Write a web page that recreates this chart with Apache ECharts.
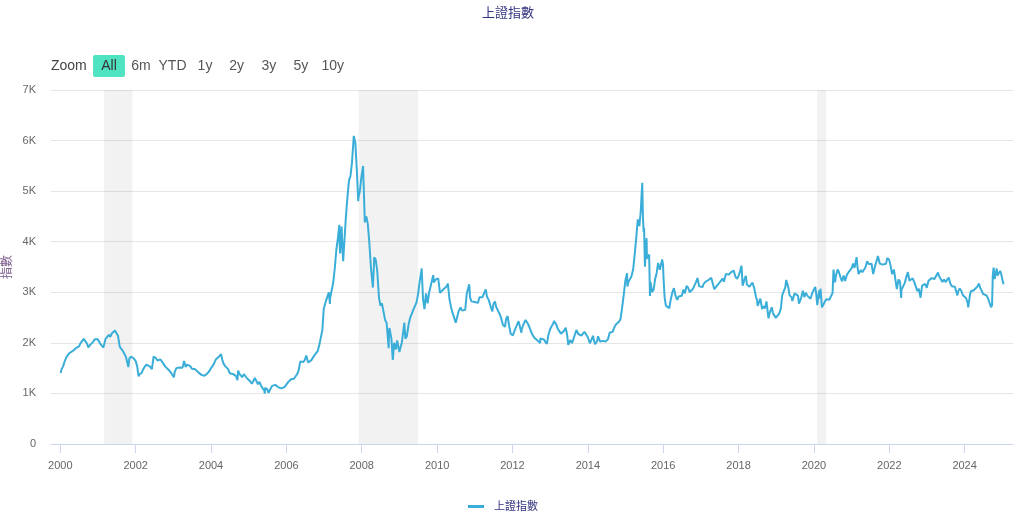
<!DOCTYPE html>
<html>
<head>
<meta charset="utf-8">
<title>上證指數</title>
<script src="https://cdn.jsdelivr.net/npm/echarts@6.0.0/dist/echarts.min.js"></script>
<style>
  html, body { margin: 0; padding: 0; background: #fff; }
  #chart { width: 1016px; height: 514px; }
</style>
</head>
<body>
<div id="chart"></div>
<script>
// 上證指數 收盤點位
var dates = [
  '2000-01-04','2000-01-12','2000-01-28','2000-02-15','2000-02-29','2000-03-15','2000-03-31','2000-04-14','2000-04-28','2000-05-15','2000-05-31','2000-06-15','2000-06-30','2000-07-14','2000-07-31','2000-08-15','2000-08-22','2000-08-31','2000-09-15','2000-09-29','2000-10-16','2000-10-31','2000-11-15','2000-11-30','2000-12-15','2000-12-29',
  '2001-01-15','2001-01-31','2001-02-22','2001-02-28','2001-03-15','2001-03-30','2001-04-16','2001-04-30','2001-05-15','2001-05-31','2001-06-14','2001-06-29','2001-07-13','2001-07-31','2001-08-15','2001-08-31','2001-09-14','2001-09-28','2001-10-22','2001-10-31','2001-11-15','2001-11-30','2001-12-14','2001-12-31',
  '2002-01-15','2002-01-29','2002-02-08','2002-02-28','2002-03-15','2002-03-29','2002-04-15','2002-04-30','2002-05-20','2002-05-31','2002-06-07','2002-06-24','2002-06-28','2002-07-15','2002-07-31','2002-08-15','2002-08-30','2002-09-16','2002-09-30','2002-10-15','2002-10-31','2002-11-15','2002-11-29','2002-12-16','2002-12-31',
  '2003-01-06','2003-01-15','2003-01-30','2003-02-14','2003-02-28','2003-03-14','2003-03-31','2003-04-15','2003-04-30','2003-05-15','2003-05-30','2003-06-13','2003-06-30','2003-07-15','2003-07-31','2003-08-15','2003-08-29','2003-09-15','2003-09-30','2003-10-15','2003-10-31','2003-11-14','2003-11-28','2003-12-15','2003-12-31',
  '2004-01-15','2004-01-30','2004-02-16','2004-02-27','2004-03-15','2004-03-31','2004-04-07','2004-04-20','2004-04-30','2004-05-17','2004-05-31','2004-06-15','2004-06-30','2004-07-15','2004-07-30','2004-08-16','2004-08-31','2004-09-13','2004-09-20','2004-09-30','2004-10-15','2004-10-29','2004-11-15','2004-11-30','2004-12-15','2004-12-31',
  '2005-01-14','2005-01-31','2005-02-16','2005-02-28','2005-03-15','2005-03-31','2005-04-15','2005-04-29','2005-05-16','2005-05-31','2005-06-06','2005-06-09','2005-06-30','2005-07-11','2005-07-29','2005-08-15','2005-08-31','2005-09-15','2005-09-30','2005-10-14','2005-10-28','2005-11-15','2005-11-30','2005-12-15','2005-12-30',
  '2006-01-16','2006-01-25','2006-02-15','2006-02-28','2006-03-15','2006-03-31','2006-04-14','2006-04-28','2006-05-15','2006-05-31','2006-06-15','2006-06-30','2006-07-12','2006-07-31','2006-08-15','2006-08-31','2006-09-15','2006-09-29','2006-10-16','2006-10-31','2006-11-15','2006-11-30','2006-12-15','2006-12-29',
  '2007-01-15','2007-01-31','2007-02-16','2007-02-27','2007-02-28','2007-03-15','2007-03-30','2007-04-16','2007-04-30','2007-05-15','2007-05-29','2007-05-30','2007-06-05','2007-06-20','2007-06-29','2007-07-05','2007-07-31','2007-08-15','2007-08-31','2007-09-14','2007-09-28','2007-10-16','2007-10-31','2007-11-15','2007-11-28','2007-11-30','2007-12-14','2007-12-28',
  '2008-01-14','2008-01-31','2008-02-15','2008-02-29','2008-03-14','2008-03-31','2008-04-18','2008-04-29','2008-04-30','2008-05-15','2008-05-30','2008-06-16','2008-06-30','2008-07-15','2008-07-31','2008-08-15','2008-08-29','2008-09-18','2008-09-22','2008-09-26','2008-10-15','2008-10-28','2008-10-31','2008-11-10','2008-11-28','2008-12-09','2008-12-31',
  '2009-01-16','2009-01-23','2009-02-17','2009-02-27','2009-03-13','2009-03-31','2009-04-15','2009-04-30','2009-05-15','2009-05-29','2009-06-15','2009-06-30','2009-07-15','2009-07-31','2009-08-04','2009-08-17','2009-08-31','2009-09-15','2009-09-30','2009-10-15','2009-10-30','2009-11-24','2009-11-30','2009-12-15','2009-12-31',
  '2010-01-11','2010-01-29','2010-02-12','2010-02-26','2010-03-15','2010-03-31','2010-04-15','2010-04-30','2010-05-17','2010-05-31','2010-06-15','2010-06-30','2010-07-05','2010-07-30','2010-08-16','2010-08-31','2010-09-15','2010-09-30','2010-10-15','2010-10-29','2010-11-08','2010-11-16','2010-11-30','2010-12-15','2010-12-31',
  '2011-01-14','2011-01-31','2011-02-15','2011-02-28','2011-03-15','2011-03-31','2011-04-18','2011-04-29','2011-05-16','2011-05-31','2011-06-20','2011-06-30','2011-07-15','2011-07-29','2011-08-15','2011-08-31','2011-09-15','2011-09-30','2011-10-21','2011-10-31','2011-11-15','2011-11-30','2011-12-15','2011-12-30',
  '2012-01-05','2012-01-31','2012-02-15','2012-02-29','2012-03-14','2012-03-28','2012-03-30','2012-04-16','2012-04-27','2012-05-07','2012-05-31','2012-06-15','2012-06-29','2012-07-16','2012-07-31','2012-08-15','2012-08-31','2012-09-26','2012-09-28','2012-10-15','2012-10-31','2012-11-15','2012-11-30','2012-12-03','2012-12-14','2012-12-31',
  '2013-01-15','2013-01-31','2013-02-06','2013-02-28','2013-03-15','2013-03-29','2013-04-15','2013-04-26','2013-05-15','2013-05-31','2013-06-14','2013-06-25','2013-06-28','2013-07-15','2013-07-31','2013-08-15','2013-08-30','2013-09-12','2013-09-30','2013-10-15','2013-10-31','2013-11-15','2013-11-29','2013-12-16','2013-12-31',
  '2014-01-20','2014-01-30','2014-02-20','2014-02-28','2014-03-12','2014-03-31','2014-04-10','2014-04-30','2014-05-15','2014-05-30','2014-06-19','2014-06-30','2014-07-15','2014-07-31','2014-08-15','2014-08-29','2014-09-15','2014-09-30','2014-10-15','2014-10-31','2014-11-14','2014-11-28','2014-12-09','2014-12-15','2014-12-31',
  '2015-01-16','2015-01-19','2015-01-30','2015-02-16','2015-02-27','2015-03-16','2015-03-31','2015-04-15','2015-04-30','2015-05-15','2015-05-29','2015-06-12','2015-06-19','2015-06-26','2015-06-30','2015-07-08','2015-07-24','2015-07-27','2015-07-31','2015-08-18','2015-08-26','2015-08-31','2015-09-15','2015-09-30','2015-10-15','2015-10-30','2015-11-13','2015-11-30','2015-12-22','2015-12-31',
  '2016-01-04','2016-01-15','2016-01-27','2016-01-29','2016-02-15','2016-02-29','2016-03-15','2016-03-31','2016-04-14','2016-04-29','2016-05-16','2016-05-31','2016-06-15','2016-06-30','2016-07-15','2016-07-29','2016-08-15','2016-08-31','2016-09-14','2016-09-30','2016-10-14','2016-10-31','2016-11-15','2016-11-29','2016-11-30','2016-12-15','2016-12-30',
  '2017-01-16','2017-01-26','2017-02-15','2017-02-28','2017-03-15','2017-03-31','2017-04-11','2017-04-28','2017-05-11','2017-05-31','2017-06-15','2017-06-30','2017-07-17','2017-07-31','2017-08-11','2017-08-31','2017-09-12','2017-09-29','2017-10-16','2017-10-31','2017-11-14','2017-11-30','2017-12-15','2017-12-29',
  '2018-01-15','2018-01-29','2018-01-31','2018-02-09','2018-02-28','2018-03-12','2018-03-23','2018-03-30','2018-04-16','2018-04-27','2018-05-15','2018-05-31','2018-06-19','2018-06-29','2018-07-05','2018-07-31','2018-08-17','2018-08-31','2018-09-14','2018-09-28','2018-10-18','2018-10-31','2018-11-19','2018-11-30','2018-12-14','2018-12-28',
  '2019-01-03','2019-01-31','2019-02-15','2019-02-28','2019-03-15','2019-03-29','2019-04-08','2019-04-30','2019-05-10','2019-05-31','2019-06-06','2019-06-28','2019-07-15','2019-07-31','2019-08-09','2019-08-30','2019-09-16','2019-09-30','2019-10-15','2019-10-31','2019-11-15','2019-11-29','2019-12-16','2019-12-31',
  '2020-01-14','2020-01-23','2020-02-03','2020-02-21','2020-02-28','2020-03-05','2020-03-19','2020-03-31','2020-04-15','2020-04-30','2020-05-15','2020-05-29','2020-06-15','2020-06-30','2020-07-09','2020-07-24','2020-07-31','2020-08-18','2020-08-31','2020-09-15','2020-09-30','2020-10-15','2020-10-30','2020-11-16','2020-11-30','2020-12-15','2020-12-31',
  '2021-01-15','2021-01-29','2021-02-18','2021-02-26','2021-03-09','2021-03-31','2021-04-15','2021-04-30','2021-05-14','2021-05-31','2021-06-15','2021-06-30','2021-07-13','2021-07-28','2021-07-30','2021-08-16','2021-08-31','2021-09-13','2021-09-30','2021-10-15','2021-10-29','2021-11-15','2021-11-30','2021-12-13','2021-12-31',
  '2022-01-14','2022-01-28','2022-02-15','2022-02-28','2022-03-15','2022-03-31','2022-04-15','2022-04-26','2022-04-29','2022-05-16','2022-05-31','2022-06-15','2022-06-30','2022-07-15','2022-07-29','2022-08-15','2022-08-31','2022-09-15','2022-09-30','2022-10-14','2022-10-31','2022-11-15','2022-11-30','2022-12-15','2022-12-30',
  '2023-01-16','2023-01-31','2023-02-15','2023-02-28','2023-03-15','2023-03-31','2023-04-18','2023-04-28','2023-05-09','2023-05-31','2023-06-15','2023-06-30','2023-07-14','2023-07-31','2023-08-15','2023-08-31','2023-09-15','2023-09-28','2023-10-23','2023-10-31','2023-11-15','2023-11-30','2023-12-15','2023-12-29',
  '2024-01-15','2024-01-31','2024-02-05','2024-02-20','2024-02-29','2024-03-15','2024-03-29','2024-04-15','2024-04-30','2024-05-20','2024-05-31','2024-06-14','2024-06-28','2024-07-15','2024-07-31','2024-08-15','2024-08-30','2024-09-13','2024-09-23','2024-09-30','2024-10-08','2024-10-18','2024-10-31','2024-11-07','2024-11-15','2024-11-29','2024-12-10','2024-12-20','2024-12-31',
  '2025-01-06','2025-01-13'
];
var values = [
  1406,1470,1535,1650,1714,1760,1800,1830,1836,1860,1894,1900,1928,1990,2023,2080,2110,2097,1990,1910,1960,1961,2020,2070,2050,2073,
  2010,1959,1907,1960,2080,2112,2160,2119,2190,2214,2242,2218,2140,1920,1880,1834,1800,1724,1520,1689,1730,1747,1690,1646,
  1540,1339,1380,1404,1480,1524,1570,1581,1530,1514,1480,1730,1732,1700,1651,1680,1670,1620,1581,1530,1507,1470,1441,1390,1357,
  1320,1430,1500,1490,1512,1520,1510,1640,1521,1570,1576,1540,1487,1510,1476,1450,1421,1420,1367,1390,1348,1320,1397,1440,1497,
  1540,1590,1670,1675,1720,1741,1777,1660,1595,1540,1555,1480,1400,1420,1386,1350,1342,1260,1450,1396,1370,1320,1380,1340,1300,1266,
  1240,1191,1250,1306,1250,1181,1230,1159,1100,1060,998,1110,1080,1011,1083,1150,1162,1170,1155,1120,1092,1100,1099,1130,1161,
  1220,1258,1280,1299,1290,1298,1380,1440,1630,1641,1620,1672,1750,1612,1600,1658,1690,1752,1790,1837,1950,2099,2250,2675,
  2800,2786,2998,2771,2881,2900,3183,3500,3841,4070,4334,4053,3767,4300,3820,3615,4471,4870,5218,5300,5552,6092,5954,5400,4803,4871,5000,5262,
  5497,4383,4500,4348,4000,3473,3094,3550,3693,3650,3433,2900,2736,2780,2775,2450,2397,1895,2236,2293,2080,1664,1729,2000,1871,2050,1820,
  1950,1990,2400,2082,2130,2373,2500,2477,2650,2632,2800,2959,3200,3412,3471,2870,2667,2980,2779,2990,2995,3338,3195,3250,3277,
  3273,2989,3018,3051,3040,3109,3170,2870,2696,2592,2570,2398,2363,2637,2700,2638,2660,2655,2970,2979,3159,2894,2820,2850,2808,
  2790,2790,2900,2905,2900,2928,3057,2911,2850,2743,2621,2762,2820,2701,2680,2567,2480,2359,2317,2469,2530,2333,2180,2199,
  2149,2292,2360,2428,2391,2200,2262,2360,2397,2451,2373,2300,2225,2150,2103,2100,2047,1999,2086,2100,2069,2020,1980,1959,2150,2269,
  2330,2385,2434,2365,2280,2237,2180,2178,2240,2301,2160,1959,1979,2060,1994,2080,2098,2255,2175,2200,2142,2130,2220,2160,2116,
  1991,2033,2140,2056,1975,2033,2130,2026,2020,2039,2024,2048,2070,2201,2226,2217,2310,2364,2370,2420,2478,2683,2856,2953,3235,
  3376,3116,3210,3220,3310,3450,3748,4084,4441,4308,4612,5166,4478,4192,4277,3507,4070,3725,3664,3748,2927,3206,3005,3053,3262,3383,3580,3445,3651,3539,
  3297,2900,2735,2737,2746,2688,2864,3004,3082,2938,2850,2917,2887,2930,3054,2979,3125,3085,3002,3005,3064,3100,3207,3282,3250,3117,3104,
  3103,3159,3212,3242,3241,3223,3289,3155,3062,3117,3132,3192,3176,3273,3208,3361,3385,3349,3390,3393,3430,3317,3266,3307,
  3410,3523,3481,3129,3259,3326,3153,3169,3110,3082,3192,3095,2907,2847,2733,2876,2669,2725,2682,2821,2486,2603,2703,2588,2594,2494,
  2464,2585,2682,2941,3022,3091,3244,3078,2939,2899,2827,2979,2942,2933,2774,2886,3031,2905,2991,2929,2891,2872,2984,3050,
  3106,2977,2746,3039,2880,3071,2702,2750,2811,2860,2868,2852,2890,2985,3450,3196,3310,3451,3396,3295,3218,3332,3225,3346,3392,3367,3473,
  3566,3483,3696,3509,3359,3441,3398,3447,3490,3615,3557,3591,3566,3361,3397,3517,3544,3716,3568,3572,3547,3533,3564,3681,3640,
  3521,3361,3446,3462,3064,3252,3211,2886,3047,3073,3186,3305,3399,3228,3253,3276,3202,3199,3024,3071,2893,3134,3151,3168,3089,
  3228,3255,3280,3280,3263,3273,3393,3323,3357,3205,3253,3202,3237,3291,3176,3120,3117,3110,2939,3018,3073,3030,2942,2975,
  2886,2789,2702,2922,3015,3054,3041,3057,3105,3171,3087,3033,2967,2975,2939,2877,2842,2704,2748,3336,3489,3261,3279,3470,3331,3326,3422,3368,3352,
  3206,3160
];
var yearTicks = [2000, 2002, 2004, 2006, 2008, 2010, 2012, 2014, 2016, 2018, 2020, 2022, 2024];
var recessions = [
  ['2001-03-01', '2001-11-30'],
  ['2007-12-01', '2009-06-30'],
  ['2020-02-01', '2020-04-30']
];
var rangeButtons = ['All', '6m', 'YTD', '1y', '2y', '3y', '5y', '10y'];
var buttonCenters = [109, 141, 172.5, 205, 236.7, 268.8, 300.8, 332.8];

var FONT = "'Liberation Sans', 'Noto Sans CJK TC', sans-serif";

function ts(s) {
  var p = s.split('-');
  return Date.UTC(+p[0], +p[1] - 1, +p[2]);
}

var chart = echarts.init(document.getElementById('chart'));

var seriesData = [];
for (var i = 0; i < dates.length; i++) {
  seriesData.push([ts(dates[i]), values[i]]);
}
var tickTimes = yearTicks.map(function (y) { return Date.UTC(y, 0, 1); });

// 范围选择按钮（仅作展示）
var graphics = [{
  type: 'text', x: 51, y: 66,
  style: { text: 'Zoom', fill: '#444', font: '14px ' + FONT, textVerticalAlign: 'middle' }
}, {
  type: 'rect', shape: { x: 93, y: 55, width: 32, height: 22, r: 2 },
  style: { fill: '#50e3c2' }
}];
rangeButtons.forEach(function (b, k) {
  graphics.push({
    type: 'text', x: buttonCenters[k], y: 66,
    style: {
      text: b, fill: k === 0 ? '#333' : '#555', font: '14px ' + FONT,
      textAlign: 'center', textVerticalAlign: 'middle'
    }
  });
});

var option = {
  animation: false,
  textStyle: { fontFamily: FONT },
  title: {
    text: '上證指數',
    left: 'center',
    top: 2,
    textStyle: { fontSize: 13, fontWeight: 'normal', color: '#333380', fontFamily: FONT }
  },
  legend: {
    top: 496,
    left: 463,
    icon: 'rect',
    itemWidth: 16,
    itemHeight: 3,
    textStyle: { fontSize: 11, color: '#333380', padding: [0, 0, 0, 5] },
    data: ['上證指數']
  },
  grid: { left: 51, right: 3, top: 90, bottom: 70, outerBoundsMode: 'none' },
  xAxis: {
    type: 'value',
    min: Date.UTC(1999, 9, 3),
    max: Date.UTC(2025, 3, 14),
    axisLine: { lineStyle: { color: '#ccd6eb' } },
    axisTick: { show: true, length: 9, customValues: tickTimes, lineStyle: { color: '#ccd6eb' } },
    axisLabel: {
      customValues: tickTimes,
      color: '#666', fontSize: 11, margin: 16,
      formatter: function (v) { return String(new Date(v).getUTCFullYear()); }
    },
    splitLine: { show: false }
  },
  yAxis: {
    type: 'value',
    min: 0, max: 7000, interval: 1000,
    name: '指數',
    nameLocation: 'middle',
    nameRotate: 90,
    nameGap: 37,
    nameMoveOverlap: false,
    nameTextStyle: { color: '#7d5c8c', fontSize: 12 },
    axisLine: { show: false },
    axisTick: { show: false },
    axisLabel: {
      color: '#666', fontSize: 11, margin: 15,
      formatter: function (v) { return v === 0 ? '0' : (v / 1000) + 'K'; }
    },
    splitLine: { lineStyle: { color: '#e6e6e6' } }
  },
  graphic: graphics,
  series: [{
    name: '上證指數',
    type: 'line',
    data: seriesData,
    showSymbol: false,
    symbol: 'none',
    lineStyle: { color: '#3aaed8', width: 2 },
    itemStyle: { color: '#3aaed8' },
    markArea: {
      silent: true,
      itemStyle: { color: 'rgba(0,0,0,0.05)' },
      data: recessions.map(function (r) { return [{ xAxis: ts(r[0]) }, { xAxis: ts(r[1]) }]; })
    }
  }]
};
chart.setOption(option);
</script>
</body>
</html>
